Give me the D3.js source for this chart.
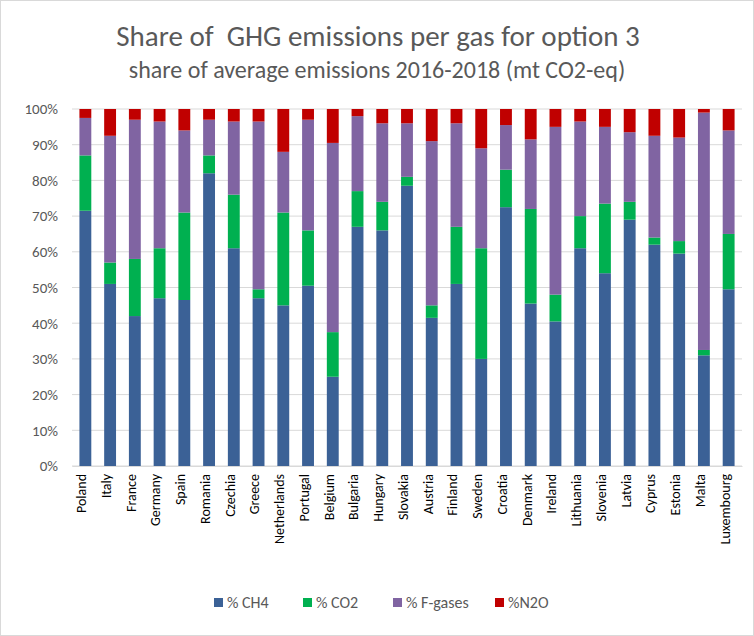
<!DOCTYPE html>
<html><head><meta charset="utf-8">
<script src="https://cdn.jsdelivr.net/npm/d3@7"></script>
<style>body{margin:0;background:#fff;font-family:Calibri,Carlito,"Open Sans",sans-serif}</style>
</head><body><svg id="c" width="754" height="636"></svg>
<script>
const countries = ["Poland","Italy","France","Germany","Spain","Romania","Czechia","Greece","Netherlands","Portugal","Belgium","Bulgaria","Hungary","Slovakia","Austria","Finland","Sweden","Croatia","Denmark","Ireland","Lithuania","Slovenia","Latvia","Cyprus","Estonia","Malta","Luxembourg"];
// cumulative tops (%)
const topCH4 = [71.5,51,42,47,46.5,82,61,47,45,50.5,25,67,66,78.5,41.5,51,30,72.5,45.5,40.5,61,54,69,62,59.5,31,49.5];
const topCO2 = [87,57,58,61,71,87,76,49.5,71,66,37.5,77,74,81,45,67,61,83,72,48,70,73.5,74,64,63,32.5,65];
const topFgas = [97.5,92.5,97,96.5,94,97,96.5,96.5,88,97,90.5,98,96,96,91,96,89,95.5,91.5,95,96.5,95,93.5,92.5,92,99,94];
const series = ["% CH4","% CO2","% F-gases","%N2O"];
const colors = ["#3b6196","#00b050","#8064a2","#c00000"];
const yTicks = [0,10,20,30,40,50,60,70,80,90,100];

const svg = d3.select("#c");
svg.append("rect").attr("x",0.5).attr("y",0.5).attr("width",753).attr("height",635).attr("fill","#fff").attr("stroke","#d9d9d9");
const m = {l:72,r:12,t:109,b:170};
const W = 754-m.l-m.r, H = 636-m.t-m.b;
const g = svg.append("g").attr("transform",`translate(${m.l},${m.t})`);
const x = d3.scaleBand().domain(countries).range([0,W]).paddingInner(0.52).paddingOuter(0.3);
const y = d3.scaleLinear().domain([0,100]).range([H,0]);

g.selectAll(".grid").data(yTicks).join("line")
  .attr("x1",0).attr("x2",W).attr("y1",d=>y(d)).attr("y2",d=>y(d))
  .attr("stroke","#d9d9d9").attr("stroke-width",1);

const rows = countries.map((c,i)=>[[0,topCH4[i]],[topCH4[i],topCO2[i]],[topCO2[i],topFgas[i]],[topFgas[i],100]]);
countries.forEach((c,i)=>{
  g.selectAll(null).data(rows[i]).join("rect")
    .attr("x",x(c)).attr("width",x.bandwidth())
    .attr("y",d=>y(d[1])).attr("height",d=>y(d[0])-y(d[1]))
    .attr("fill",(d,k)=>colors[k]);
});

const ya = g.append("g").call(d3.axisLeft(y).tickValues(yTicks).tickFormat(d=>d+"%").tickSize(0).tickPadding(14));
ya.select(".domain").remove();
ya.selectAll("text").attr("font-size",15).attr("fill","#595959").style("font-family","Calibri,Carlito,'Open Sans',sans-serif");

const xa = g.append("g").attr("transform",`translate(0,${H})`).call(d3.axisBottom(x).tickSize(0));
xa.select(".domain").attr("stroke","#d9d9d9");
xa.selectAll("text").attr("font-size",14).attr("fill","#000").attr("text-anchor","end")
  .attr("transform","rotate(-90)").attr("dx","-8").attr("dy","-0.15em")
  .style("font-family","Calibri,Carlito,'Open Sans',sans-serif");

svg.append("text").attr("x",378).attr("y",46).attr("text-anchor","middle").attr("font-size",29).attr("fill","#595959")
  .style("white-space","pre").text("Share of  GHG emissions per gas for option 3");
svg.append("text").attr("x",377).attr("y",78).attr("text-anchor","middle").attr("font-size",24).attr("fill","#595959").text("share of average emissions 2016-2018 (mt CO2-eq)");

const lg = svg.append("g").attr("transform","translate(0,603)");
const lx = [214,303,393,495];
series.forEach((s,i)=>{
  lg.append("rect").attr("x",lx[i]).attr("y",-5).attr("width",9).attr("height",9).attr("fill",colors[i]);
  lg.append("text").attr("x",lx[i]+13).attr("y",5).attr("font-size",16).attr("fill","#595959").text(s);
});
</script></body></html>
